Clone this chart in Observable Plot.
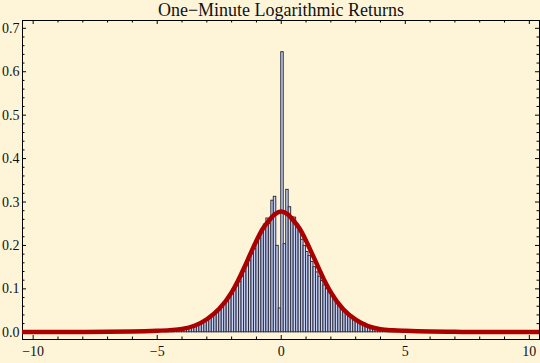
<!DOCTYPE html>
<html><head><meta charset="utf-8">
<script src="https://cdn.jsdelivr.net/npm/d3@7"></script>
<script src="https://cdn.jsdelivr.net/npm/@observablehq/plot@0.6"></script>
<style>html,body{margin:0;padding:0;background:#fef5d9;overflow:hidden;}</style>
</head><body><div id="chart"></div>
<script>
const title = "One\u2212Minute Logarithmic Returns";

// histogram: bins of width 0.1 starting at -4.7
const binStart = -4.7;
const binWidth = 0.1;
const density = [
  0.003, 0.004, 0.004, 0.005, 0.005, 0.006, 0.007, 0.007, 0.008, 0.010,
  0.011, 0.012, 0.014, 0.016, 0.019, 0.022, 0.025, 0.028, 0.032, 0.036,
  0.041, 0.046, 0.052, 0.058, 0.065, 0.072, 0.080, 0.088, 0.097, 0.106,
  0.116, 0.127, 0.140, 0.152, 0.165, 0.180, 0.192, 0.205, 0.216, 0.232,
  0.248, 0.262, 0.249, 0.303, 0.312, 0.199, 0.055,
  0.645, 0.203, 0.328, 0.288, 0.265, 0.264, 0.247, 0.234, 0.213, 0.199,
  0.185, 0.176, 0.162, 0.150, 0.138, 0.128, 0.118, 0.108, 0.100, 0.092,
  0.084, 0.076, 0.069, 0.062, 0.056, 0.050, 0.045, 0.040, 0.035, 0.031,
  0.027, 0.024, 0.022, 0.020, 0.016, 0.014, 0.012, 0.011, 0.009, 0.008,
  0.007, 0.006, 0.005, 0.005, 0.004, 0.003, 0.003
];

// fitted density curve
const curveX = [-10.43, -9, -8, -7, -6, -5.5, -5, -4.5, -4, -3.5, -3, -2.5, -2, -1.75, -1.5, -1.25, -1, -0.75, -0.5, -0.25, 0,
                0.25, 0.5, 0.75, 1, 1.25, 1.5, 1.75, 2, 2.5, 3, 3.5, 4, 4.5, 5, 5.5, 6, 7, 8, 9, 10.41];
const curveY = [0.0004, 0.0005, 0.0007, 0.001, 0.0018, 0.0025, 0.0035, 0.005, 0.0075, 0.015, 0.030, 0.054, 0.092, 0.118, 0.148, 0.180, 0.211, 0.238, 0.257, 0.272, 0.278,
                0.272, 0.257, 0.238, 0.211, 0.180, 0.149, 0.118, 0.092, 0.053, 0.029, 0.014, 0.007, 0.0045, 0.0033, 0.0025, 0.0018, 0.001, 0.0007, 0.0005, 0.0004];

const xTickLabels = [-10, -5, 0, 5, 10];
const yTickLabels = [0, 0.1, 0.2, 0.3, 0.4, 0.5, 0.6, 0.7];
const xMinorTicks = d3.range(-10, 11, 1).filter(d => d % 5 !== 0);
const yMinorTicks = d3.range(1, 36).filter(i => i % 5 !== 0).map(i => i * 0.02);

const W = 540, H = 363;
const mL = 22, mR = 1, mT = 20, mB = 24;
const FW = W - mL - mR, FH = H - mT - mB;

const bars = density.map((d, i) => ({x1: binStart + i * binWidth, x2: binStart + (i + 1) * binWidth, y: d}));
const curve = curveX.map((x, i) => ({x, y: curveY[i]}));

const fmtX = d => d < 0 ? "\u2212" + Math.abs(d) : String(d);

const plot = Plot.plot({
  width: W, height: H,
  marginLeft: mL, marginRight: mR, marginTop: mT, marginBottom: mB,
  style: {background: "#fef5d9", fontFamily: "'Liberation Serif', 'Times New Roman', serif", fontSize: "14px", color: "#111"},
  x: {domain: [-10.43, 10.41], label: null},
  y: {domain: [-0.0166, 0.718], label: null},
  marks: [
    Plot.rectY(bars, {x1: "x1", x2: "x2", y: "y", fill: "#c8d4f8", stroke: "#2e2e3e", strokeWidth: 1}),
    Plot.axisX(xTickLabels, {anchor: "bottom", tickSize: 0, tickPadding: 7, tickFormat: fmtX, fontSize: 14}),
    Plot.axisY(yTickLabels, {anchor: "left", tickSize: 0, tickPadding: 3, tickFormat: d3.format(".1f"), fontSize: 14}),
    // inward frame ticks
    Plot.ruleX(xTickLabels, {insetTop: FH - 4, stroke: "black"}),
    Plot.ruleX(xTickLabels, {insetBottom: FH - 4, stroke: "black"}),
    Plot.ruleX(xMinorTicks, {insetTop: FH - 2.5, stroke: "black"}),
    Plot.ruleX(xMinorTicks, {insetBottom: FH - 2.5, stroke: "black"}),
    Plot.ruleY(yTickLabels, {insetRight: FW - 4, stroke: "black"}),
    Plot.ruleY(yTickLabels, {insetLeft: FW - 4, stroke: "black"}),
    Plot.ruleY(yMinorTicks, {insetRight: FW - 2.5, stroke: "black"}),
    Plot.ruleY(yMinorTicks, {insetLeft: FW - 2.5, stroke: "black"}),
    Plot.frame({stroke: "black"}),
    Plot.line(curve, {x: "x", y: "y", stroke: "#aa0000", strokeWidth: 4.5, curve: "monotone-x", clip: true}),
    Plot.text([title], {frameAnchor: "top", lineAnchor: "bottom", dy: -4.5, fontSize: 18, fill: "#111"})
  ]
});
document.getElementById("chart").appendChild(plot);
</script>
</body></html>
